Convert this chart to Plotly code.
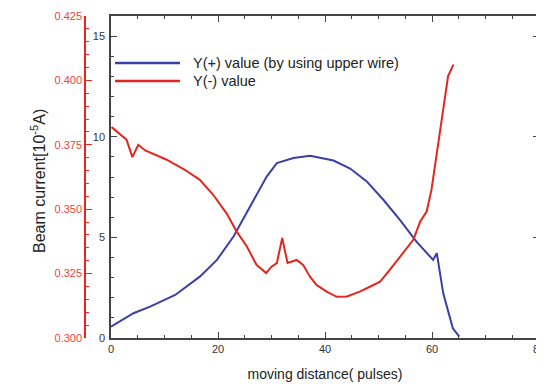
import plotly.graph_objects as go

# Y(+) value (blue), plotted on the 0-16 scale (10^-5 A)
blue_x = [0, 4.2, 7.3, 12.0, 16.6, 19.8, 22.9, 26.0, 29.1, 31.0, 34.1, 37.2, 41.6,
          44.7, 47.8, 50.9, 54.0, 57.1, 60.2, 60.9, 62.1, 63.9, 65.1]
blue_y = [0.56, 1.23, 1.56, 2.14, 3.05, 3.88, 5.04, 6.53, 8.02, 8.69, 8.94, 9.05, 8.82,
          8.42, 7.78, 6.87, 5.87, 4.79, 3.88, 4.21, 2.22, 0.48, 0.07]

# Y(-) value (red), values in the red-axis units
red_x = [0.1, 2.9, 4.0, 5.1, 6.4, 10.4, 13.8, 16.6, 19.1, 21.6, 23.5, 25.4, 27.2, 29.0,
         30.0, 31.0, 32.0, 33.0, 34.7, 35.9, 37.2, 38.4, 40.3, 42.2, 44.1, 46.5, 48.4,
         50.3, 52.1, 54.0, 55.3, 56.5, 57.8, 59.0, 59.9, 60.9, 61.8, 63.0, 64.0]
red_v = [0.3819, 0.3770, 0.3702, 0.3750, 0.3728, 0.3692, 0.3653, 0.3614, 0.3556,
         0.3484, 0.3413, 0.3355, 0.3284, 0.3252, 0.3277, 0.3291, 0.3388, 0.3291,
         0.3303, 0.3284, 0.3238, 0.3206, 0.3180, 0.3160, 0.3161, 0.3180, 0.3199,
         0.3219, 0.3264, 0.3316, 0.3348, 0.3381, 0.3452, 0.3491, 0.3575, 0.3718,
         0.3860, 0.4016, 0.4061]

series_names = ["Y(+) value (by using upper wire)", "Y(-) value"]

blue_color = "#3a3fa8"
red_color = "#e3261f"
red_tick = "#e8453c"
axis_color = "#444444"
font = "Liberation Sans, Arial, sans-serif"

fig = go.Figure()
fig.add_trace(go.Scatter(x=blue_x, y=blue_y, mode="lines",
                         line=dict(color=blue_color, width=2),
                         name=series_names[0]))
fig.add_trace(go.Scatter(x=red_x, y=red_v, mode="lines", yaxis="y2",
                         line=dict(color=red_color, width=2),
                         name=series_names[1]))

OFF = 8  # default page body margin
W, H = 544 - OFF, 387 - OFF
L, R = 80 - OFF, 539 - OFF
T, B = 16 - OFF, 338 - OFF
PW, PH = R - L, B - T


def px(xp):
    return (xp - OFF - L) / PW


def py(yp):
    return (B - (yp - OFF)) / PH


fig.update_layout(
    width=W, height=H,
    margin=dict(l=L, r=W - R, t=T, b=H - B, autoexpand=False),
    paper_bgcolor="white", plot_bgcolor="white",
    font=dict(family=font, size=11, color="#333333"),
    showlegend=False,
    xaxis=dict(domain=[px(111), 1], range=[0, 80], automargin=False,
               tickmode="linear", tick0=0, dtick=20, ticklabeloverflow="allow",
               ticks="inside", ticklen=6, tickcolor=axis_color,
               minor=dict(dtick=5, ticks="inside", ticklen=3, tickcolor=axis_color),
               showline=True, linecolor=axis_color, linewidth=1.5, mirror="ticks",
               showgrid=False, zeroline=False,
               title=dict(text="moving distance( pulses)", font=dict(size=14, color="#222222"),
                          standoff=15)),
    yaxis=dict(range=[0, 16], tickmode="array", tickvals=[0, 5, 10, 15], automargin=False,
               ticks="inside", ticklen=6, tickcolor=axis_color,
               minor=dict(dtick=1, ticks="inside", ticklen=3, tickcolor=axis_color),
               showline=True, linecolor=axis_color, linewidth=1.5, mirror="ticks",
               showgrid=False, zeroline=False, ticklabelstandoff=2),
    yaxis2=dict(range=[0.300, 0.425], overlaying="y", anchor="free", automargin=False,
                position=px(85), side="left",
                tickmode="linear", tick0=0.3, dtick=0.025, tickformat=".3f",
                ticks="inside", ticklen=6, tickcolor=red_color,
                minor=dict(dtick=0.005, ticks="inside", ticklen=3, tickcolor=red_color),
                showline=True, linecolor=red_color, linewidth=1.5,
                showgrid=False, zeroline=False,
                tickfont=dict(color=red_tick, size=11)),
)

# y-axis title
fig.add_annotation(text="Beam current[10<sup>-5</sup>A)", xref="paper", yref="paper",
                   x=px(38), y=py(181), textangle=-90, showarrow=False,
                   font=dict(size=16, color="#222222"), xanchor="center", yanchor="middle")

# legend drawn by hand (line samples + text)
legend_rows = [(63, blue_color), (81, red_color)]
for (yy, col), name in zip(legend_rows, series_names):
    fig.add_shape(type="line", xref="paper", yref="paper",
                  x0=px(115), x1=px(180), y0=py(yy), y1=py(yy),
                  line=dict(color=col, width=2.5))
    fig.add_annotation(text=name, xref="paper", yref="paper",
                       x=px(191), y=py(yy), xanchor="left", yanchor="middle",
                       showarrow=False, font=dict(size=14.5, color="#222222"))

fig.write_html("out.html")
